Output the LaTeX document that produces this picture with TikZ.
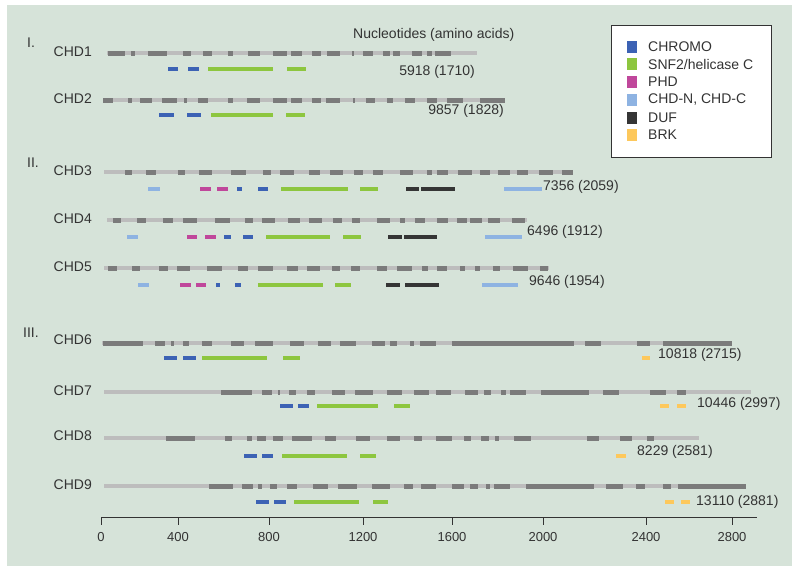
\documentclass[tikz,border=0pt]{standalone}
\usepackage{fontspec}
\setmainfont{Liberation Sans}
\usetikzlibrary{positioning}
\definecolor{panelbg}{HTML}{D6E3D9}
\definecolor{genelight}{HTML}{BDBDBD}
\definecolor{genedark}{HTML}{7B7B7B}
\definecolor{chromoblue}{HTML}{3C62B4}
\definecolor{snfgreen}{HTML}{8DC63F}
\definecolor{phdmagenta}{HTML}{C0479B}
\definecolor{chdlight}{HTML}{8EB3E2}
\definecolor{dufdark}{HTML}{353535}
\definecolor{brkyellow}{HTML}{FDC85C}
\definecolor{txtgray}{HTML}{333333}
\tikzset{
  gene/.style={line width=3.5pt, genelight},
  seg/.style={line width=5pt, genedark},
  dom/.style={line width=4.5pt},
  chromo/.style={dom, chromoblue},
  snf/.style={dom, snfgreen},
  phd/.style={dom, phdmagenta},
  chdnc/.style={dom, chdlight},
  duf/.style={dom, dufdark},
  brk/.style={dom, brkyellow},
  lab/.style={font=\fontsize{14}{16}\selectfont, text=txtgray, inner sep=0pt},
  ticklab/.style={font=\fontsize{13}{15}\selectfont, text=txtgray, inner sep=0pt},
}

\begin{document}
\begin{tikzpicture}[x=1pt, y=-1pt]
    \useasboundingbox (0,0) rectangle (800,571);
    \fill[white] (0,0) rectangle (800,571);
    \fill[panelbg] (7,5) rectangle (792,566);

    % legend
    \draw[fill=white, draw=txtgray, line width=0.8pt] (611,25) rectangle (771,157);
    \foreach \nm/\col/\y/\txt in {lc/chromoblue/47/CHROMO, ls/snfgreen/64/SNF2\slash helicase C,
        lp/phdmagenta/82/PHD, ln/chdlight/100/{CHD-N, CHD-C}, ld/dufdark/118/DUF, lb/brkyellow/135/BRK} {
      \fill[\col] (627,\y-6) rectangle (637,\y+6);
      \node[lab, anchor=west] (\nm) at (648,\y) {\txt};
    }

    \node[lab, anchor=west] (title) at (353,35) {Nucleotides (amino acids)};
    \node[lab, anchor=west] (grp1) at (27,43) {I.};
    \node[lab, anchor=west] (grp2) at (27,163) {II.};
    \node[lab, anchor=west] (grp3) at (23,333) {III.};

    % group I
    \node[lab, anchor=east] (chd1) at (92,52) {CHD1};
    \draw[gene] (107,53) -- (477,53);
    \foreach \a/\b in {108/125,131/135,148/167,183/191,203/212,228/233,248/260,273/287,291/302,312/321,
        327/340,352/354,363/373,383/390,393/400,412/422,427/432,435/451}
      \draw[seg] (\a,53) -- (\b,53);
    \draw[chromo] (168,69) -- (178,69); \draw[chromo] (188,69) -- (199,69);
    \draw[snf] (208,69) -- (273,69); \draw[snf] (287,69) -- (306,69);
    \node[lab, anchor=east] (len1) at (475,72) {5918 (1710)};

    \node[lab, anchor=east] (chd2) at (92,99) {CHD2};
    \draw[gene] (103,100) -- (505,100);
    \foreach \a/\b in {103/113,128/132,140/152,162/177,184/187,198/208,228/233,247/260,273/287,291/302,
        312/321,326/340,353/355,366/375,387/393,405/415,427/437,447/463,480/505}
      \draw[seg] (\a,100) -- (\b,100);
    \draw[chromo] (159,115) -- (174,115); \draw[chromo] (187,115) -- (201,115);
    \draw[snf] (211,115) -- (273,115); \draw[snf] (286,115) -- (305,115);
    \node[lab, anchor=east] (len2) at (504,111) {9857 (1828)};

    % group II
    \node[lab, anchor=east] (chd3) at (92,171) {CHD3};
    \draw[gene] (104,172) -- (573,172);
    \foreach \a/\b in {125/132,146/156,178/185,199/212,231/246,263/271,280/294,309/320,330/343,354/363,
        373/383,400/413,427/432,437/448,458/472,480/490,498/510,517/528,539/553,562/573}
      \draw[seg] (\a,172) -- (\b,172);
    \draw[chdnc] (148,189) -- (160,189); \draw[chdnc] (504,189) -- (542,189);
    \draw[phd] (200,189) -- (211,189); \draw[phd] (217,189) -- (228,189);
    \draw[chromo] (237,189) -- (242,189); \draw[chromo] (258,189) -- (268,189);
    \draw[snf] (281,189) -- (348,189); \draw[snf] (360,189) -- (378,189);
    \draw[duf] (406,189) -- (419,189); \draw[duf] (421,189) -- (455,189);
    \node[lab, anchor=west] (len3) at (543,187) {7356 (2059)};

    \node[lab, anchor=east] (chd4) at (92,219) {CHD4};
    \draw[gene] (107,220) -- (527,220);
    \foreach \a/\b in {113/121,137/146,163/173,183/197,215/230,245/253,262/275,288/300,309/322,333/342,
        352/360,377/390,400/405,415/425,437/448,457/467,470/482,488/500,512/525}
      \draw[seg] (\a,220) -- (\b,220);
    \draw[chdnc] (127,237) -- (138,237); \draw[chdnc] (485,237) -- (522,237);
    \draw[phd] (187,237) -- (197,237); \draw[phd] (205,237) -- (216,237);
    \draw[chromo] (224,237) -- (231,237); \draw[chromo] (243,237) -- (253,237);
    \draw[snf] (266,237) -- (330,237); \draw[snf] (343,237) -- (361,237);
    \draw[duf] (388,237) -- (402,237); \draw[duf] (404,237) -- (437,237);
    \node[lab, anchor=west] (len4) at (527,232) {6496 (1912)};

    \node[lab, anchor=east] (chd5) at (92,267) {CHD5};
    \draw[gene] (104,268) -- (549,268);
    \foreach \a/\b in {108/117,132/140,159/168,177/190,207/222,238/248,258/273,287/298,307/320,332/340,
        351/360,377/387,397/412,422/428,437/447,460/465,475/480,493/500,513/528,540/548}
      \draw[seg] (\a,268) -- (\b,268);
    \draw[chdnc] (138,285) -- (149,285); \draw[chdnc] (482,285) -- (518,285);
    \draw[phd] (180,285) -- (191,285); \draw[phd] (196,285) -- (206,285);
    \draw[chromo] (216,285) -- (220,285); \draw[chromo] (235,285) -- (241,285);
    \draw[snf] (258,285) -- (323,285); \draw[snf] (335,285) -- (351,285);
    \draw[duf] (386,285) -- (400,285); \draw[duf] (405,285) -- (439,285);
    \node[lab, anchor=west] (len5) at (529,282) {9646 (1954)};

    % group III
    \node[lab, anchor=east] (chd6) at (92,340) {CHD6};
    \draw[gene] (102,343) -- (732,343);
    \foreach \a/\b in {103/143,155/165,171/174,183/189,202/212,231/244,255/273,290/304,318/331,340/356,
        372/385,390/397,410/414,420/436,452/574,585/601,637/650,663/732}
      \draw[seg] (\a,343) -- (\b,343);
    \draw[chromo] (164,358) -- (177,358); \draw[chromo] (183,358) -- (196,358);
    \draw[snf] (202,358) -- (267,358); \draw[snf] (283,358) -- (300,358);
    \draw[brk] (642,358) -- (650,358);
    \node[lab, anchor=west] (len6) at (658,355) {10818 (2715)};

    \node[lab, anchor=east] (chd7) at (92,391) {CHD7};
    \draw[gene] (104,392) -- (751,392);
    \foreach \a/\b in {221/252,262/272,278/280,289/296,307/315,332/345,355/373,387/402,414/429,436/451,
        465/478,484/491,501/506,510/526,541/589,603/619,650/666,677/686}
      \draw[seg] (\a,392) -- (\b,392);
    \draw[chromo] (280,406) -- (293,406); \draw[chromo] (298,406) -- (309,406);
    \draw[snf] (317,406) -- (378,406); \draw[snf] (394,406) -- (410,406);
    \draw[brk] (660,406) -- (669,406); \draw[brk] (677,406) -- (686,406);
    \node[lab, anchor=west] (len7) at (697,404) {10446 (2997)};

    \node[lab, anchor=east] (chd8) at (92,436) {CHD8};
    \draw[gene] (104,438) -- (699,438);
    \foreach \a/\b in {166/195,225/232,247/252,257/266,273/283,292/312,325/336,356/370,387/400,414/422,
        436/452,464/471,481/489,495/499,514/531,587/599,620/632,647/654}
      \draw[seg] (\a,438) -- (\b,438);
    \draw[chromo] (244,456) -- (257,456); \draw[chromo] (262,456) -- (273,456);
    \draw[snf] (282,456) -- (347,456); \draw[snf] (360,456) -- (376,456);
    \draw[brk] (616,456) -- (626,456);
    \node[lab, anchor=west] (len8) at (637,452) {8229 (2581)};

    \node[lab, anchor=east] (chd9) at (92,485) {CHD9};
    \draw[gene] (104,486) -- (746,486);
    \foreach \a/\b in {209/233,242/253,258/262,270/277,287/297,313/328,338/357,372/390,404/413,421/436,
        452/464,470/478,486/490,494/510,526/594,606/623,636/645,663/671,678/746}
      \draw[seg] (\a,486) -- (\b,486);
    \draw[chromo] (256,502) -- (269,502); \draw[chromo] (274,502) -- (286,502);
    \draw[snf] (294,502) -- (359,502); \draw[snf] (373,502) -- (388,502);
    \draw[brk] (665,502) -- (674,502); \draw[brk] (681,502) -- (690,502);
    \node[lab, anchor=west] (len9) at (696,502) {13110 (2881)};

    % axis
    \coordinate (ax0) at (101,517);
    \coordinate (ax1) at (757,517);
    \draw[txtgray, line width=0.9pt] (ax0) -- (ax1);
    \foreach \x/\t in {101/0,178/400,269/800,363/1200,452/1600,543/2000,646/2400,732/2800} {
      \draw[txtgray, line width=0.9pt] (\x,517) -- (\x,525);
      \node[ticklab] (tick\t) at (\x,537) {\t};
    }
\end{tikzpicture}
\end{document}
